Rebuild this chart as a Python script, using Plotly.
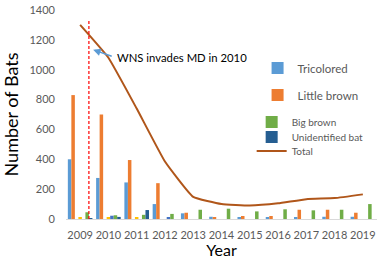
import plotly.graph_objects as go

years = [2009, 2010, 2011, 2012, 2013, 2014, 2015, 2016, 2017, 2018, 2019]
tricolored = [400, 275, 245, 100, 38, 15, 13, 13, 9, 15, 15]
little_brown = [830, 700, 395, 240, 42, 11, 20, 20, 62, 62, 42]
other_gray = [0, 0, 0, 0, 0, 0, 0, 0, 0, 0, 0]
other_yellow = [10, 8, 8, 0, 0, 0, 0, 0, 0, 0, 0]
other_blue = [0, 22, 0, 7, 0, 0, 0, 0, 0, 0, 0]
big_brown = [45, 25, 28, 34, 62, 69, 51, 65, 58, 62, 100]
unidentified = [2, 14, 60, 0, 0, 0, 0, 0, 0, 0, 0]
total = [1300, 1080, 740, 385, 148, 100, 90, 105, 133, 140, 165]

font = "Lato"

fig = go.Figure()
series = [
    ("Tricolored", tricolored, "#5B9BD5", "legend"),
    ("Little brown", little_brown, "#ED7D31", "legend2"),
    ("Other", other_gray, "#A5A5A5", None),
    ("Other 2", other_yellow, "#FFC000", None),
    ("Other 3", other_blue, "#4472C4", None),
    ("Big brown", big_brown, "#70AD47", "legend3"),
    ("Unidentified bat", unidentified, "#255E91", "legend4"),
]
for name, vals, col, leg in series:
    fig.add_trace(go.Bar(
        x=years, y=vals, name=name, marker_color=col, marker_line_width=0,
        showlegend=leg is not None, legend=leg if leg else "legend",
    ))
fig.add_trace(go.Scatter(
    x=years, y=total, name="Total", mode="lines",
    line=dict(color="#B0561A", width=2, shape="spline", smoothing=0.35),
    legend="legend5",
))

# red dashed line marking WNS arrival
fig.add_shape(type="line", x0=2009.31, x1=2009.31, y0=0, y1=1335,
              xref="x", yref="y", line=dict(color="#FF0000", width=1.2, dash="3px,2px"))

fig.add_annotation(x=2009.46, y=1134, ax=2010.17, ay=1087, xref="x", yref="y",
                   axref="x", ayref="y", text="", showarrow=True,
                   arrowcolor="#5B9BD5", arrowwidth=1.5, arrowhead=2, arrowsize=1)
fig.add_annotation(x=2010.22, y=1080, xref="x", yref="y", text="WNS invades MD in 2010",
                   showarrow=False, xanchor="left", yanchor="middle",
                   font=dict(family=font, size=11.3, color="#000000"))

def leg(x, y, size):
    return dict(x=x, y=y, xanchor="left", yanchor="middle", bgcolor="rgba(0,0,0,0)",
                font=dict(family=font, size=size, color="#595959"),
                itemwidth=30, borderwidth=0)

fig.update_layout(
    width=378, height=259,
    margin=dict(l=66, r=1, t=10, b=40),
    paper_bgcolor="white", plot_bgcolor="white",
    barmode="group", bargap=0.13, bargroupgap=0,
    font=dict(family=font, color="#595959"),
    legend=leg(0.616, 0.722, 11.5), legend2=leg(0.616, 0.593, 11.5),
    legend3=leg(0.597, 0.464, 10), legend4=leg(0.597, 0.392, 10), legend5=leg(0.597, 0.325, 10),
    xaxis=dict(range=[2008.5, 2019.5], tickmode="array", tickvals=years,
               ticktext=[str(y) for y in years], showgrid=False,
               showline=True, linecolor="#D9D9D9", linewidth=1,
               tickfont=dict(family=font, size=11, color="#595959"),
               ticks="", ticklabelstandoff=6,
               title=dict(text="Year", font=dict(family=font, size=16, color="#000000"), standoff=7)),
    yaxis=dict(range=[0, 1400], dtick=200, showgrid=False, zeroline=False,
               tickfont=dict(family=font, size=11, color="#595959"),
               ticks="", ticklabelstandoff=10,
               title=dict(text="Number of Bats", font=dict(family=font, size=18, color="#000000"), standoff=6)),
)

fig.write_html("out.html", config={"displayModeBar": False},
               post_script="document.body.style.margin='0px';")
